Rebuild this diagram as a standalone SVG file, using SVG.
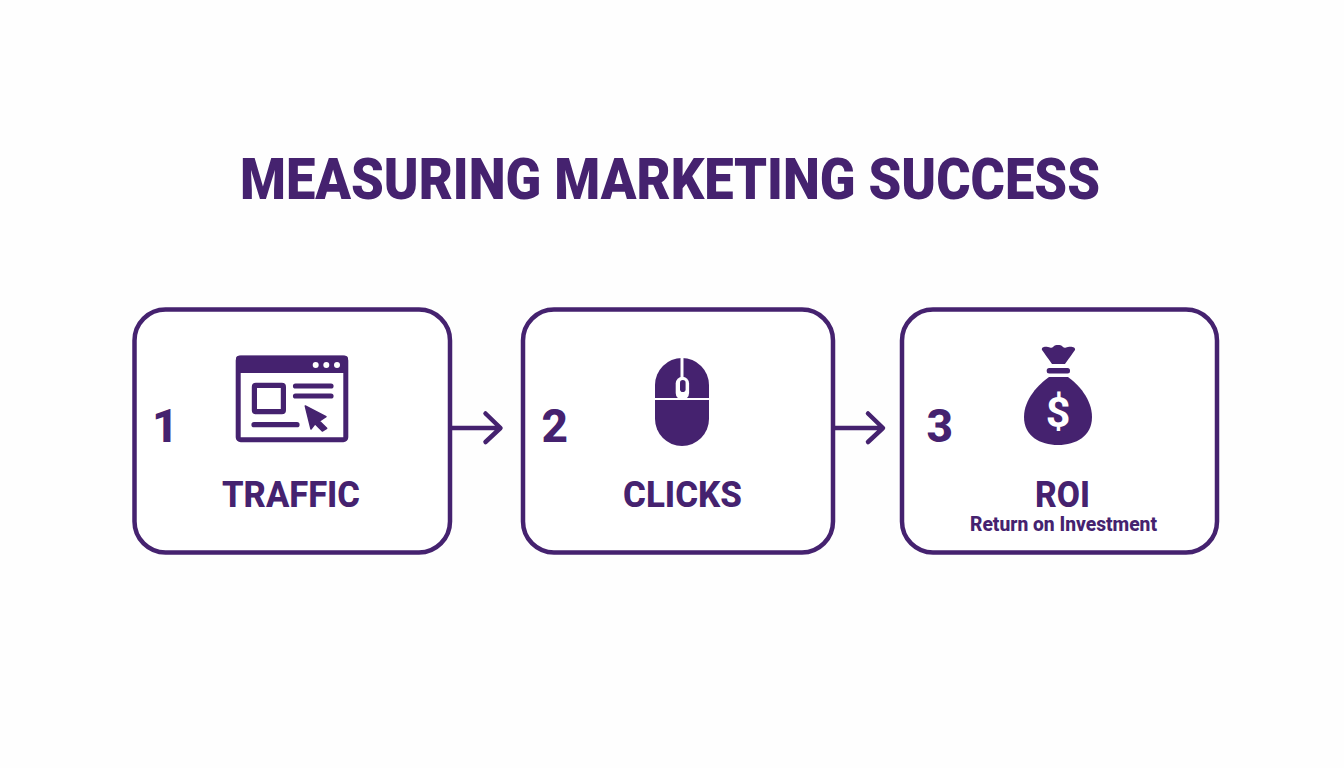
<svg xmlns="http://www.w3.org/2000/svg" width="1344" height="768" viewBox="0 0 1344 768">
<style>
text{font-family:Roboto,"Liberation Sans",sans-serif;font-weight:800;fill:#45226f}
.box{fill:#fff;stroke:#45226f;stroke-width:4.5}
.ln{fill:none;stroke:#45226f;stroke-width:4.5;stroke-linecap:round;stroke-linejoin:round}
.ic{fill:none;stroke:#45226f;stroke-width:5.2;stroke-linecap:round;stroke-linejoin:round}
.w{fill:none;stroke:#fff;stroke-linecap:butt}
.num{font-size:46px}
.lab{font-size:37px;text-anchor:middle}
</style>
<rect width="1344" height="768" fill="#fefefe"/>
<text id="title" x="670" y="199" font-size="57" text-anchor="middle" textLength="860" lengthAdjust="spacingAndGlyphs" style="font-weight:900">MEASURING MARKETING SUCCESS</text>
<g id="connectors">
<path class="ln" d="M452 428H499M485.500 413.500L500.500 428L485.500 442"/>
<path class="ln" d="M835 428H882M868 413.500L883 428L868 442"/>
</g>
<g id="node-traffic">
<rect class="box" x="134.500" y="309.500" width="315.500" height="243" rx="31"/>
<text class="num" x="152" y="441.500">1</text>
<rect x="238.200" y="358" width="107.600" height="81.700" rx="2.500" fill="#fff" stroke="#45226f" stroke-width="5"/>
<path d="M236 373V358.500A3 3 0 0 1 239 355.700H345A3 3 0 0 1 348 358.500V373Z" fill="#45226f"/>
<circle cx="315.700" cy="365" r="3" fill="#fff"/><circle cx="326.300" cy="365" r="3" fill="#fff"/><circle cx="337" cy="365" r="3" fill="#fff"/>
<rect x="254.400" y="385.400" width="29" height="26.300" rx="1.500" class="ic"/>
<path class="ic" d="M295.500 386H331M295.500 396H331M254 424.700H297"/>
<path d="M305.300 406L326 416.700L319.300 421L326.700 428.300L322.300 431L315 423.700L311 429Z" fill="#45226f" stroke="#45226f" stroke-width="1.500" stroke-linejoin="round"/>
<text class="lab" x="291" y="507" textLength="138" lengthAdjust="spacingAndGlyphs">TRAFFIC</text>
</g>
<g id="node-clicks">
<rect class="box" x="523" y="309.500" width="310" height="243" rx="31"/>
<text class="num" x="541.500" y="441.500">2</text>
<path d="M655 385A27 27 0 0 1 709 385V419A27 27 0 0 1 655 419Z" fill="#45226f"/>
<path class="w" stroke-width="2" d="M655 399H709"/>
<path class="w" stroke-width="3" d="M682 357V378"/>
<rect x="675.700" y="376.700" width="13.400" height="23" rx="6.700" fill="#fff"/>
<rect x="680" y="380" width="5.600" height="12" rx="2.800" fill="#45226f"/>
<text class="lab" x="682.500" y="507" textLength="119" lengthAdjust="spacingAndGlyphs">CLICKS</text>
</g>
<g id="node-roi">
<rect class="box" x="902" y="309.500" width="315" height="243" rx="31"/>
<text class="num" x="926.500" y="441.500">3</text>
<path d="M1042 350C1041 347 1045 346 1048 347C1051 348 1052 348 1053 347C1055 345 1056 345 1058 345C1060 345 1061 345 1063 347C1064 348 1065 348 1068 347C1071 346 1076 347 1075 350C1073 353 1069 358 1065 364H1052C1048 358 1044 353 1042 350Z" fill="#45226f"/>
<rect x="1046.700" y="368" width="23.300" height="5.500" rx="2.500" fill="#45226f"/>
<path d="M1049 377H1068C1078 384 1092 399 1092 417C1092 436 1076 445 1058 445C1040 445 1024 436 1024 417C1024 399 1039 384 1049 377Z" fill="#45226f"/>
<text x="1058" y="427" font-size="43" text-anchor="middle" style="fill:#fff;font-weight:700">$</text>
<text class="lab" x="1062.500" y="507" textLength="55" lengthAdjust="spacingAndGlyphs">ROI</text>
<text x="1063.500" y="530.500" font-size="20.500" text-anchor="middle" textLength="187" lengthAdjust="spacingAndGlyphs">Return on Investment</text>
</g>
</svg>
